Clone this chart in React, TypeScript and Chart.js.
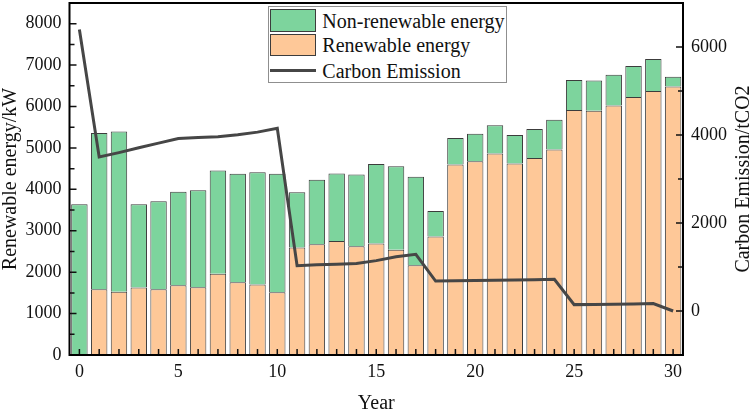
import React, { useEffect, useRef } from 'react';
import { Chart, registerables } from 'chart.js';

Chart.register(...registerables);

// ---- data ----
const years = [0, 1, 2, 3, 4, 5, 6, 7, 8, 9, 10, 11, 12, 13, 14, 15, 16, 17, 18, 19, 20, 21, 22, 23, 24, 25, 26, 27, 28, 29, 30];
const renewable = [0, 1590, 1530, 1630, 1590, 1685, 1635, 1965, 1755, 1700, 1515, 2595, 2675, 2750, 2625, 2690, 2540, 2170, 2860, 4600, 4680, 4865, 4625, 4755, 4965, 5915, 5900, 6025, 6230, 6375, 6485];
const nonRenewable = [3640, 3770, 3870, 2010, 2125, 2255, 2345, 2490, 2620, 2710, 2860, 1335, 1555, 1635, 1735, 1920, 2015, 2135, 620, 640, 660, 685, 685, 700, 715, 725, 730, 745, 750, 770, 235];
const carbonEmission = [6400, 3500, 3600, 3710, 3815, 3920, 3945, 3960, 4005, 4065, 4155, 1030, 1050, 1065, 1080, 1145, 1235, 1290, 680, 688, 694, 700, 705, 712, 722, 145, 150, 155, 160, 170, 0];

const xTickLabels = [0, 5, 10, 15, 20, 25, 30];
const leftTickValues = [0, 1000, 2000, 3000, 4000, 5000, 6000, 7000, 8000];
const leftMinorTicks = [500, 1500, 2500, 3500, 4500, 5500, 6500, 7500];
const rightTickValues = [0, 2000, 4000, 6000];
const rightMinorTicks = [1000, 3000, 5000];

const RIGHT_TITLE = 'Carbon Emission/tCO2';

const GREEN = '#7dd49d';
const ORANGE = '#fec898';
const LINE = '#464646';
const EDGE = '#3c3c3c';
const FONT = "'Liberation Serif', 'Times New Roman', serif";

const frameTicks = {
  id: 'frameTicks',
  afterDatasetsDraw(chart: any) {
    const { ctx, chartArea: a, scales } = chart;
    ctx.save();
    ctx.strokeStyle = '#111';
    ctx.lineWidth = 1.5;
    ctx.beginPath();
    years.forEach((_, i) => {
      const px = scales.x.getPixelForValue(i);
      ctx.moveTo(px, a.bottom);
      ctx.lineTo(px, a.bottom - 6);
    });
    leftTickValues.forEach((v) => {
      const py = scales.y.getPixelForValue(v);
      ctx.moveTo(a.left, py);
      ctx.lineTo(a.left + 7, py);
    });
    leftMinorTicks.forEach((v) => {
      const py = scales.y.getPixelForValue(v);
      ctx.moveTo(a.left, py);
      ctx.lineTo(a.left + 5, py);
    });
    rightTickValues.forEach((v) => {
      const py = scales.y1.getPixelForValue(v);
      ctx.moveTo(a.right, py);
      ctx.lineTo(a.right - 7, py);
    });
    rightMinorTicks.forEach((v) => {
      const py = scales.y1.getPixelForValue(v);
      ctx.moveTo(a.right, py);
      ctx.lineTo(a.right - 5, py);
    });
    ctx.stroke();
    ctx.lineWidth = 2;
    ctx.strokeStyle = '#000';
    ctx.strokeRect(a.left, a.top, a.right - a.left, a.bottom - a.top);

    // right axis title, reading bottom-to-top
    ctx.translate(744, (a.top + a.bottom) / 2);
    ctx.rotate(-Math.PI / 2);
    ctx.fillStyle = '#111';
    ctx.font = `20px ${FONT}`;
    ctx.textAlign = 'center';
    ctx.textBaseline = 'middle';
    ctx.fillText(RIGHT_TITLE, 0, 0);
    ctx.restore();
  },
};

function zeroPad(scale: any) {
  scale.paddingTop = 0;
  scale.paddingBottom = 0;
  scale.paddingLeft = 0;
  scale.paddingRight = 0;
}

const plain = (v: any) => String(v);

export default function App() {
  const ref = useRef<HTMLCanvasElement | null>(null);

  useEffect(() => {
    if (!ref.current) return;
    const chart = new Chart(ref.current, {
      type: 'bar',
      data: {
        labels: years.map(String),
        datasets: [
          {
            type: 'line',
            label: 'Carbon Emission',
            data: carbonEmission,
            yAxisID: 'y1',
            borderColor: LINE,
            borderWidth: 3,
            pointRadius: 0,
            tension: 0,
            order: 0,
          } as any,
          {
            type: 'bar',
            label: 'Renewable energy',
            data: renewable,
            yAxisID: 'y',
            backgroundColor: ORANGE,
            borderColor: EDGE,
            borderWidth: 1,
            stack: 'energy',
            order: 1,
          },
          {
            type: 'bar',
            label: 'Non-renewable energy',
            data: nonRenewable,
            yAxisID: 'y',
            backgroundColor: GREEN,
            borderColor: EDGE,
            borderWidth: 1,
            stack: 'energy',
            order: 2,
          },
        ],
      },
      options: {
        animation: false,
        responsive: false,
        devicePixelRatio: 1,
        layout: { padding: { top: 3, left: 0, right: 0, bottom: 0 } },
        datasets: { bar: { categoryPercentage: 1, barPercentage: 0.83 } },
        plugins: { legend: { display: false }, tooltip: { enabled: false } },
        scales: {
          x: {
            type: 'category',
            stacked: true,
            offset: true,
            grid: { display: false, drawTicks: false },
            border: { display: false },
            ticks: {
              autoSkip: false,
              maxRotation: 0,
              padding: 6,
              color: '#111',
              font: { family: FONT, size: 18 },
            },
            afterBuildTicks: (scale: any) => {
              scale.ticks = xTickLabels.map((v) => ({ value: years.indexOf(v) }));
            },
            afterFit: (scale: any) => {
              scale.height = 57;
              zeroPad(scale);
            },
            title: {
              display: true,
              text: 'Year',
              color: '#111',
              font: { family: FONT, size: 20, lineHeight: 0.85 },
              padding: { top: 0, bottom: 0 },
            },
          },
          y: {
            type: 'linear',
            position: 'left',
            stacked: true,
            min: 0,
            max: 8500,
            grid: { display: false, drawTicks: false },
            border: { display: false },
            ticks: {
              padding: 8,
              color: '#111',
              font: { family: FONT, size: 18 },
              callback: plain,
            },
            afterBuildTicks: (scale: any) => {
              scale.ticks = leftTickValues.map((v) => ({ value: v }));
            },
            afterFit: (scale: any) => {
              scale.width = 69.5;
              zeroPad(scale);
            },
            title: {
              display: true,
              text: 'Renewable energy/kW',
              color: '#111',
              font: { family: FONT, size: 20, lineHeight: 1 },
              padding: { top: 1, bottom: 0 },
            },
          },
          y1: {
            type: 'linear',
            position: 'right',
            stacked: false,
            min: -1000,
            max: 7000,
            grid: { display: false, drawTicks: false },
            border: { display: false },
            ticks: {
              padding: 8,
              color: '#111',
              font: { family: FONT, size: 18 },
              callback: plain,
            },
            afterBuildTicks: (scale: any) => {
              scale.ticks = rightTickValues.map((v) => ({ value: v }));
            },
            afterFit: (scale: any) => {
              scale.width = 71;
              zeroPad(scale);
            },
            title: { display: false },
          },
        },
      } as any,
      plugins: [frameTicks],
    });
    return () => chart.destroy();
  }, []);

  const textStyle: React.CSSProperties = {
    position: 'absolute',
    left: 53.8,
    height: 24,
    lineHeight: '24px',
    fontFamily: FONT,
    fontSize: 20,
    color: '#111',
    whiteSpace: 'nowrap',
  };

  return (
    <div style={{ position: 'fixed', left: 0, top: 0, width: 754, height: 412, background: '#fff' }}>
      <canvas ref={ref} width={754} height={412} style={{ width: 754, height: 412, display: 'block' }} />
      <div
        style={{
          position: 'absolute',
          left: 267.5,
          top: 5.5,
          width: 239,
          height: 77,
          border: '1px solid #8f8f8f',
          boxSizing: 'border-box',
          background: '#fff',
        }}
      >
        <div style={{ position: 'absolute', left: 1.8, top: 2.8, width: 46, height: 22.5, background: GREEN, border: `1px solid ${EDGE}`, boxSizing: 'border-box' }} />
        <div style={{ ...textStyle, top: 2 }}>Non-renewable energy</div>
        <div style={{ position: 'absolute', left: 1.8, top: 27.8, width: 46, height: 22, background: ORANGE, border: `1px solid ${EDGE}`, boxSizing: 'border-box' }} />
        <div style={{ ...textStyle, top: 26.7 }}>Renewable energy</div>
        <div style={{ position: 'absolute', left: 1.8, top: 62.7, width: 46, height: 3, background: LINE }} />
        <div style={{ ...textStyle, top: 52.2 }}>Carbon Emission</div>
      </div>
    </div>
  );
}
